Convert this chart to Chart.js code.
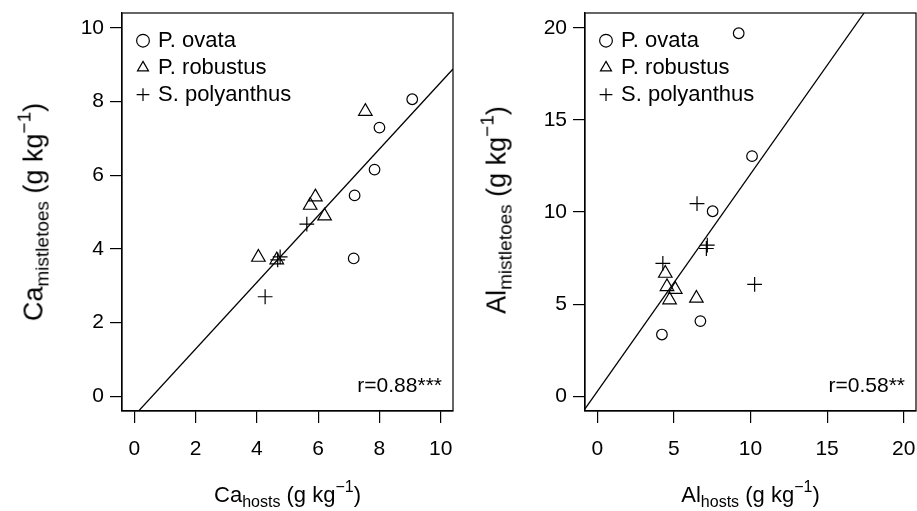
<!DOCTYPE html>
<html><head><meta charset="utf-8">
<script src="https://cdn.jsdelivr.net/npm/chart.js@4"></script>
<style>
body{margin:0;background:#fff;width:917px;height:511px;overflow:hidden;position:relative;font-family:"Liberation Sans",Arial,sans-serif;color:#000;}
canvas{position:absolute;top:0}
#c1{left:0}
#c2{left:458px}
.ttl{position:absolute;white-space:nowrap;}
.xt{font-size:22px;line-height:22px;transform:translateX(-50%);}
.yt{font-size:27px;line-height:27px;transform:translate(-50%,-50%) rotate(-90deg);}
.xt sub{font-size:16px;vertical-align:baseline;position:relative;top:5px;}
.xt sup{font-size:16px;vertical-align:baseline;position:relative;top:-10px;}
.yt sub{font-size:19px;vertical-align:baseline;position:relative;top:6px;}
.yt sup{font-size:19px;vertical-align:baseline;position:relative;top:-12px;}
</style></head>
<body>
<canvas id="c1" width="462" height="511"></canvas>
<canvas id="c2" width="467" height="511"></canvas>
<div class="ttl xt" style="left:287.5px;top:484px">Ca<sub>hosts</sub> (g kg<sup>−1</sup>)</div>
<div class="ttl yt" style="left:35px;top:212px">Ca<sub>mistletoes</sub> (g kg<sup>−1</sup>)</div>
<div class="ttl xt" style="left:750.5px;top:484px">Al<sub>hosts</sub> (g kg<sup>−1</sup>)</div>
<div class="ttl yt" style="left:498px;top:210px">Al<sub>mistletoes</sub> (g kg<sup>−1</sup>)</div>
<script>
// ---- data: Ca panel ----
const seriesNames = ['P. ovata', 'P. robustus', 'S. polyanthus'];
const caOvataX = [9.07, 8.00, 7.84, 7.19, 7.16];
const caOvataY = [8.06, 7.29, 6.15, 5.45, 3.74];
const caRobustusX = [7.54, 5.91, 5.74, 6.21, 4.05, 4.65];
const caRobustusY = [7.73, 5.41, 5.18, 4.89, 3.77, 3.70];
const caPolyX = [5.63, 4.76, 4.68, 4.27];
const caPolyY = [4.67, 3.78, 3.70, 2.70];
const caFitX = [-0.4, 10.4];
const caFitY = [-0.89, 8.88];
const caTicks = [0, 2, 4, 6, 8, 10];
const caLabel = 'r=0.88***';
// ---- data: Al panel ----
const alOvataX = [9.23, 10.10, 7.53, 6.73, 4.22];
const alOvataY = [19.70, 13.03, 10.04, 4.08, 3.35];
const alRobustusX = [4.44, 4.55, 5.09, 4.72, 6.47];
const alRobustusY = [6.67, 5.95, 5.80, 5.23, 5.32];
const alPolyX = [6.51, 7.18, 7.12, 4.28, 10.27];
const alPolyY = [10.45, 8.20, 8.02, 7.21, 6.07];
const alFitX = [-0.8, 17.41];
const alFitY = [-0.68, 20.8];
const alTicks = [0, 5, 10, 15, 20];
const alLabel = 'r=0.58**';

Chart.defaults.font.family = '"Liberation Sans", Arial, sans-serif';
Chart.defaults.color = '#000';

const pts = (xs, ys) => xs.map((x, i) => ({x, y: ys[i]}));

const framePlugin = {
  id: 'frameText',
  afterLayout(chart) {
    const ca = chart.chartArea, lg = chart.legend;
    if (lg) {
      const w = lg.width, h = lg.height;
      lg.left = ca.left + 12; lg.top = ca.top + 11.7;
      lg.right = lg.left + w; lg.bottom = lg.top + h;
    }
  },
  afterDraw(chart, args, opts) {
    const ctx = chart.ctx, ca = chart.chartArea;
    ctx.save();
    ctx.strokeStyle = '#000';
    ctx.lineWidth = 1.2;
    ctx.strokeRect(ca.left, ca.top, ca.right - ca.left, ca.bottom - ca.top);
    ctx.font = '21px "Liberation Sans", Arial, sans-serif';
    ctx.fillStyle = '#000';
    ctx.textAlign = 'right';
    ctx.textBaseline = 'middle';
    ctx.fillText(opts.text, ca.right - 11, ca.bottom - 25);
    ctx.restore();
  }
};

function makeChart(id, d) {
  const common = {backgroundColor: 'rgba(0,0,0,0)', borderColor: '#000', borderWidth: 1.2};
  const axis = (min, max, ticks, isX, size) => ({
    type: 'linear', min, max,
    afterBuildTicks: s => { s.ticks = ticks.map(v => ({value: v})); },
    afterFit: s => {
      if (isX) { s.height = size; s.paddingLeft = 0; s.paddingRight = 0; }
      else { s.width = size; s.paddingTop = 0; s.paddingBottom = 0; }
    },
    ticks: {font: {size: 21}, color: '#000', padding: isX ? 14 : 6, maxRotation: 0, autoSkip: false},
    grid: {drawOnChartArea: false, drawTicks: true, tickLength: 12, color: '#000', lineWidth: 1.2},
    border: {display: true, color: '#000', width: 1.2}
  });
  return new Chart(document.getElementById(id), {
    type: 'scatter',
    data: {datasets: [
      Object.assign({label: seriesNames[0], data: pts(d.ox, d.oy), pointStyle: 'circle', pointRadius: 5.3}, common),
      Object.assign({label: seriesNames[1], data: pts(d.rx, d.ry), pointStyle: 'triangle', pointRadius: 7.8}, common),
      Object.assign({label: seriesNames[2], data: pts(d.px, d.py), pointStyle: 'cross', pointRadius: 7.4}, common),
      {label: 'fit', data: pts(d.fx, d.fy), showLine: true, pointRadius: 0, borderColor: '#000', borderWidth: 1.3, clip: 0}
    ]},
    options: {
      responsive: false, animation: false, events: [],
      layout: {padding: {top: 13, right: 0, left: 0, bottom: 0}},
      scales: {
        x: axis(d.xmin, d.xmax, d.ticks, true, 100),
        y: axis(d.ymin, d.ymax, d.ticks, false, d.yw)
      },
      plugins: {
        tooltip: {enabled: false},
        frameText: {text: d.label},
        legend: {
          position: 'chartArea', align: 'start',
          labels: {
            usePointStyle: true, boxWidth: 8, boxHeight: 9, padding: 5,
            color: '#000', font: {size: 22},
            filter: item => item.datasetIndex < 3
          }
        }
      }
    },
    plugins: [framePlugin]
  });
}

makeChart('c1', {ox: caOvataX, oy: caOvataY, rx: caRobustusX, ry: caRobustusY, px: caPolyX, py: caPolyY,
  fx: caFitX, fy: caFitY, ticks: caTicks, xmin: -0.4, xmax: 10.4, ymin: -0.4, ymax: 10.4, yw: 122, label: caLabel});
makeChart('c2', {ox: alOvataX, oy: alOvataY, rx: alRobustusX, ry: alRobustusY, px: alPolyX, py: alPolyY,
  fx: alFitX, fy: alFitY, ticks: alTicks, xmin: -0.8, xmax: 20.8, ymin: -0.8, ymax: 20.8, yw: 127, label: alLabel});
</script>
</body></html>
